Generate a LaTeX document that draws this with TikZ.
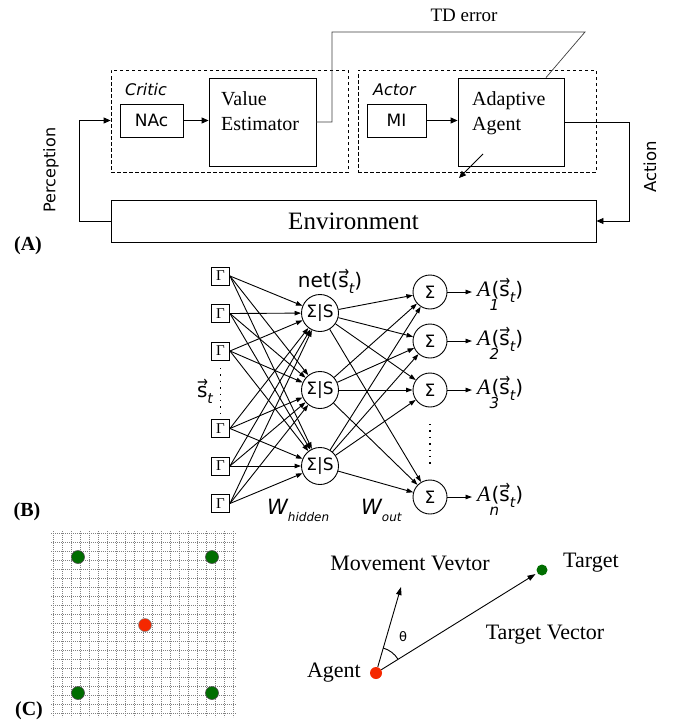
\documentclass[tikz,border=0pt]{standalone}
\usepackage{fontspec}
\setmainfont{Liberation Serif}
\newfontfamily\sansdv{DejaVu Sans}
\usetikzlibrary{arrows.meta,calc}

\newcommand\fsz[1]{\fontsize{#1}{#1}\selectfont}
% s with a small arrow on top
\newcommand\svec{\makebox[0pt][l]{\raisebox{0.5em}{\scalebox{0.65}[0.8]{→}}}s}
% output label A_k(s_t), the index set low under the parenthesis
\newcommand\alab[1]{{\fsz{22}\itshape A}\kern-1pt\makebox[0pt][l]{\raisebox{-14pt}{\sansdv\itshape\fsz{15}#1}}\kern2pt{\sansdv\fsz{20}(\svec\raisebox{-0.3em}{\fsz{14}\itshape t})}}

\definecolor{dotgreen}{RGB}{0,110,0}
\definecolor{dotred}{RGB}{245,40,0}

\begin{document}
\begin{tikzpicture}[x=1pt,y=-1pt,
  blk/.style={draw, line width=0.9pt, inner sep=0pt},
  dashbox/.style={draw, dashed, dash pattern=on 3.5pt off 2.5pt, line width=0.8pt, inner sep=0pt},
  arr/.style={line width=0.9pt, -{Triangle[length=7pt,width=6pt]}},
  tdline/.style={line width=0.7pt, black!75},
  serlab/.style={inner sep=0pt, font=\fsz{20}},
  panlab/.style={inner sep=0pt, font=\fsz{20}\bfseries},
  gbox/.style={draw, line width=0.9pt, minimum size=18pt, inner sep=0pt, font=\fsz{15}},
  hnode/.style={draw, circle, line width=0.9pt, minimum size=37pt, inner sep=0pt, font=\sansdv\fsz{17}},
  onode/.style={draw, circle, line width=0.9pt, minimum size=34pt, inner sep=0pt, font=\sansdv\fsz{17}},
  edge/.style={line width=0.9pt, -{Triangle[length=6.5pt,width=4.5pt]}},
  vdots/.style={line width=1.3pt, dash pattern=on 1.4pt off 5pt},
  gridl/.style={line width=0.55pt, black!50, dash pattern=on 0.9pt off 1.1pt},
  gdot/.style={circle, fill=dotgreen, draw=black!70, line width=0.6pt, minimum size=13pt, inner sep=0pt},
  rdot/.style={circle, fill=dotred, draw=black!50, line width=0.5pt, minimum size=13pt, inner sep=0pt},
  vecarr/.style={line width=0.9pt, -{Triangle[length=8pt,width=5.5pt]}},
  ctext/.style={inner sep=0pt, font=\fsz{22}}
]
\useasboundingbox[fill=white] (0,0) rectangle (673,725);

% ---------------- (A) actor-critic loop ----------------
\node[dashbox, minimum width=237pt, minimum height=102pt] (critic) at (229.5,121) {};
\node[dashbox, minimum width=238pt, minimum height=102pt] (actor) at (477,121) {};
\node[blk, minimum width=63pt, minimum height=33pt, font=\sansdv\fsz{17}] (NAc) at (151.5,120.5) {NAc};
\node[blk, minimum width=107pt, minimum height=88pt] (VE) at (262.5,122) {};
\node[blk, minimum width=59pt, minimum height=33pt, font=\sansdv\fsz{17}] (MI) at (396.5,120.5) {MI};
\node[blk, minimum width=106pt, minimum height=88pt] (AA) at (511,122) {};
\node[blk, minimum width=485pt, minimum height=42pt, font=\fsz{25}] (Env) at (353.5,221) {Environment};

\node[inner sep=0pt, anchor=base west, font=\sansdv\itshape\fsz{16}] (crit) at (125,95) {Critic};
\node[inner sep=0pt, anchor=base west, font=\sansdv\itshape\fsz{16}] (act) at (373,95) {Actor};
\node[serlab, anchor=base west] (ve1) at (221,105) {Value};
\node[serlab, anchor=base west] (ve2) at (221,130) {Estimator};
\node[serlab, anchor=base west] (aa1) at (472,105) {Adaptive};
\node[serlab, anchor=base west] (aa2) at (472,130) {Agent};
\node[inner sep=0pt, font=\fsz{19}] (td) at (464,15) {TD error};
\node[inner sep=0pt, rotate=90, font=\sansdv\fsz{16}] (perc) at (51,170) {Perception};
\node[inner sep=0pt, rotate=90, font=\sansdv\fsz{16.5}] (acti) at (650,167) {Action};

\draw[arr] (NAc.east) -- (NAc.east -| VE.west);
\draw[arr] (MI.east) -- (MI.east -| AA.west);

\coordinate (td1) at (332,32);
\coordinate (td2) at (585,32);
\draw[tdline] (VE.east) -| (td1) -- (td2) -- ([xshift=35pt]AA.north);

\coordinate (sa1) at (483,154);
\coordinate (sa2) at (459,178);
\draw[arr] (sa1) -- (sa2);

\coordinate (pleft) at (79,0);
\draw[arr] (Env.west) -| (pleft |- NAc.center) -- (critic.west |- NAc.center);
\coordinate (aright) at (629,0);
\draw[arr] (AA.east) -| (aright |- Env.east) -- (Env.east);

\node[panlab] (labA) at (28,246) {(A)};

% ---------------- (B) network ----------------
\foreach \i/\y in {1/276,2/313.5,3/351,4/428.5,5/466,6/503.5}
  \node[gbox] (g\i) at (220.5,\y) {Γ};
\foreach \j/\y in {1/313,2/390,3/466}
  \node[hnode] (h\j) at (320,\y) {Σ|S};
\foreach \k/\y in {1/292,2/341,3/390,4/497}
  \node[onode] (o\k) at (430,\y) {Σ};

\foreach \i in {1,...,6}
  \foreach \j in {1,2,3}
    \draw[edge] (g\i.east) -- (h\j);
\foreach \j in {1,2,3}
  \foreach \k in {1,...,4}
    \draw[edge] (h\j) -- (o\k);

\foreach \k/\y/\n in {1/292/1,2/341/2,3/390/3,4/497/n} {
  \node[inner sep=0pt, anchor=base west] (a\k) at (477,\y+4) {\alab{\n}};
  \draw[edge] (o\k.east) -- ([xshift=-5pt]o\k.east -| a\k.west);
}

\draw[vdots] (220.5,368) -- (220.5,414);
\draw[vdots] (430,424) -- (430,464);

\node[inner sep=0pt, anchor=base, font=\sansdv\fsz{20}] (net) at (330,287) {net(\svec\raisebox{-0.3em}{\fsz{14}\itshape t})};
\node[inner sep=0pt, anchor=base, font=\sansdv\fsz{20}] (st) at (205,397) {\svec\raisebox{-0.3em}{\fsz{14}\itshape t}};
\node[inner sep=0pt, anchor=base west, font=\sansdv\itshape\fsz{21}] (wh) at (267,514) {W\raisebox{-7pt}{\fsz{12}hidden}};
\node[inner sep=0pt, anchor=base west, font=\sansdv\itshape\fsz{21}] (wo) at (361,514) {W\raisebox{-7pt}{\fsz{12}out}};

\node[panlab] (labB) at (27,512) {(B)};

% ---------------- (C) grid world and vectors ----------------
\foreach \i in {0,...,20} {
  \draw[gridl] ({53+9*\i},531) -- ({53+9*\i},717);
  \draw[gridl] (51,{533+9*\i}) -- (236,{533+9*\i});
}
\node[gdot] (gd1) at (78,557) {};
\node[gdot] (gd2) at (212,557) {};
\node[gdot] (gd3) at (78,693) {};
\node[gdot] (gd4) at (212,693) {};
\node[rdot] (rd) at (145,625) {};

\node[circle, fill=dotred, minimum size=12pt, inner sep=0pt] (agent) at (376,673) {};
\node[circle, fill=dotgreen, minimum size=11pt, inner sep=0pt] (target) at (542,570) {};
\coordinate (mv) at (401,587);
\draw[vecarr] (agent) -- (mv);
\draw[vecarr, shorten >=2pt] (agent) -- (target);
\draw[line width=0.9pt] ($(agent.center)+(-73.8:26)$) arc[start angle=-73.8, end angle=-31.8, radius=26];

\node[ctext] (mvl) at (410,563) {Movement Vevtor};
\node[ctext, anchor=west] (tgl) at (563,563) {Target};
\node[ctext] (tvl) at (545,635) {Target Vector};
\node[ctext, anchor=east] (agl) at (361,673) {Agent};
\node[inner sep=0pt, font=\sansdv\fsz{13}] (th) at (403,637) {θ};

\node[panlab] (labC) at (29,711) {(C)};
\end{tikzpicture}
\end{document}
